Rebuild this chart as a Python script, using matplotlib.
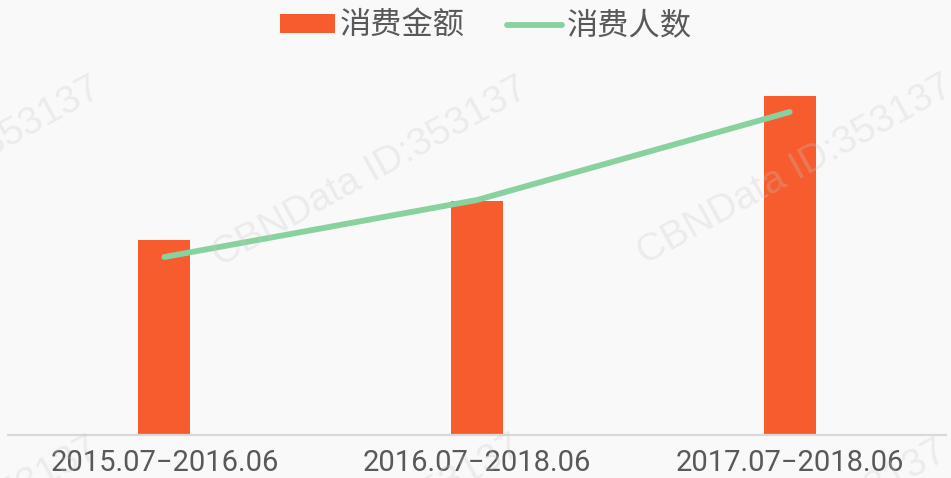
import matplotlib
matplotlib.use('Agg')
import matplotlib.pyplot as plt
from matplotlib.patches import Patch
from matplotlib.lines import Line2D

plt.rcParams['font.family'] = ['Noto Sans CJK SC', 'DejaVu Sans']

# data (no y axis in the source, values read in pixel units)
periods = ['2015.07\u22122016.06', '2016.07\u22122018.06', '2017.07\u22122018.06']
amount = [195, 234, 339]      # 消费金额
users = [178, 235, 323]       # 消费人数
series_names = ['消费金额', '消费人数']

bar_color = '#F75C2F'
line_color = '#88D2A0'
text_color = '#595959'
bg = '#F9F9F9'

fig = plt.figure(figsize=(9.51, 4.78), dpi=100, facecolor=bg)
ax = fig.add_axes([8/951, 43/478, 938/951, 435/478], facecolor=bg)

x = list(range(len(periods)))
ax.bar(x, amount, width=0.166, color=bar_color, zorder=2)
ax.plot(x, users, color=line_color, linewidth=4.2, solid_capstyle='round', zorder=3)

ax.set_xlim(-0.5, 2.5)
ax.set_ylim(0, 435)
ax.set_yticks([])
ax.set_xticks(x)
ax.set_xticklabels(periods, family=['Roboto', 'DejaVu Sans'], fontsize=21, color=text_color)
ax.tick_params(axis='x', length=0, pad=10)
for s in ['top', 'right', 'left']:
    ax.spines[s].set_visible(False)
ax.spines['bottom'].set_color('#D9D9D9')
ax.spines['bottom'].set_linewidth(1.6)

handles = [Patch(facecolor=bar_color, edgecolor='none'),
           Line2D([0], [0], color=line_color, linewidth=4.2, solid_capstyle='round')]
fig.legend(handles, series_names, loc='center', bbox_to_anchor=(0.511, 0.946), ncol=2,
           frameon=False, fontsize=22.5, labelcolor=text_color, handlelength=1.75,
           handleheight=0.55, handletextpad=0.15, columnspacing=1.35)

# watermarks
for cx, cy in [(-57, 172), (370, 172), (795, 170), (-59, 532), (364, 530), (789, 535)]:
    fig.text(cx/951, 1 - cy/478, 'CBNData ID:353137', family='Liberation Sans', fontsize=28,
             color='#C8C8C8', alpha=0.27, rotation=29, ha='center', va='center', zorder=10)

fig.savefig('out.png', dpi=100, facecolor=bg)
